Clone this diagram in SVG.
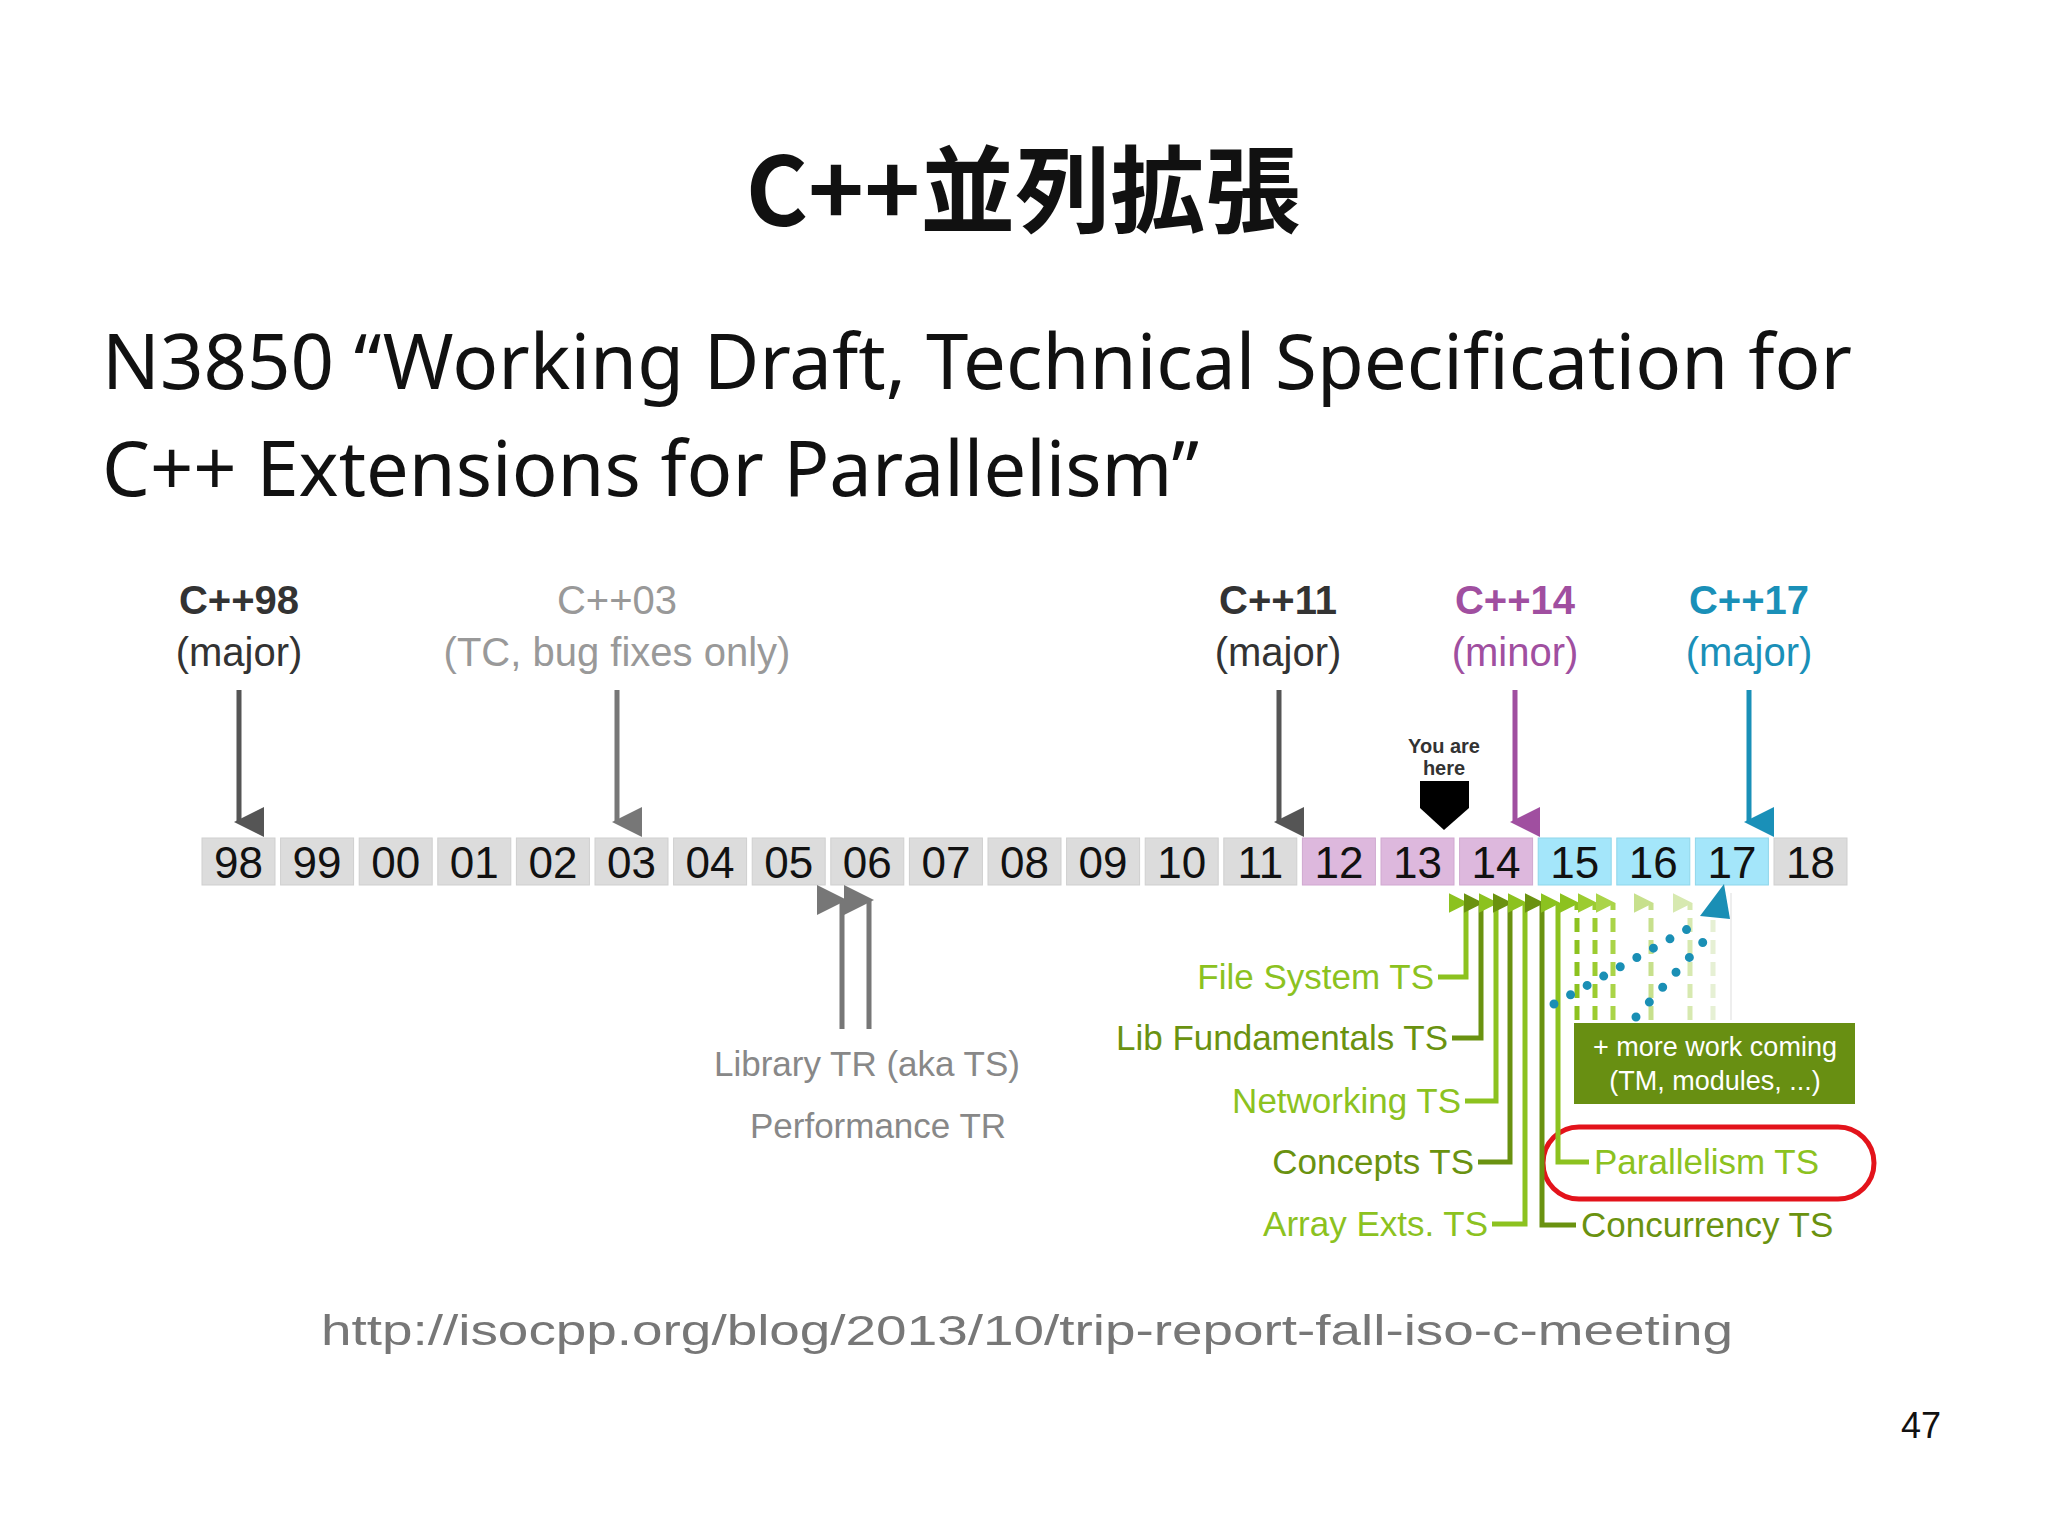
<svg xmlns="http://www.w3.org/2000/svg" width="2048" height="1535" viewBox="0 0 2048 1535">
<style>
.t{font-family:"Liberation Sans",Arial,sans-serif}
.yr{font-family:"Liberation Sans",Arial,sans-serif;font-size:44px;text-anchor:middle;fill:#111}
.hd{font-family:"Liberation Sans",Arial,sans-serif;font-size:40px;text-anchor:middle}
.ts{font-family:"Liberation Sans",Arial,sans-serif;font-size:35px}
.lg{fill:#8cc21f}.dg{fill:#6a9210}
</style>
<defs>
<marker id="ag" markerWidth="6" markerHeight="6" refX="3" refY="5" orient="auto" markerUnits="strokeWidth" viewBox="0 0 6 6"><path d="M0,0 L6,0 L3,6z" fill="context-stroke"/></marker>
<marker id="au" markerWidth="4" markerHeight="4" refX="2" refY="3.5" orient="auto" markerUnits="strokeWidth" viewBox="0 0 4 4"><path d="M0,0 L4,0 L2,4z" fill="context-stroke"/></marker>
</defs>
<rect width="2048" height="1535" fill="#fff"/>
<text x="1023" y="226" text-anchor="middle" font-family="'Noto Sans CJK JP',sans-serif" font-weight="bold" font-size="95" fill="#111">C++並列拡張</text>
<text x="102" y="389" font-family="'Noto Sans','Noto Sans CJK JP',sans-serif" font-size="76" fill="#111" textLength="1750" lengthAdjust="spacingAndGlyphs">N3850 “Working Draft, Technical Specification for</text>
<text x="102" y="496" font-family="'Noto Sans','Noto Sans CJK JP',sans-serif" font-size="76" fill="#111" textLength="1097" lengthAdjust="spacingAndGlyphs">C++ Extensions for Parallelism”</text>

<g id="headers">
<text class="hd" x="239" y="614" font-weight="bold" fill="#333">C++98</text>
<text class="hd" x="239" y="666" fill="#333">(major)</text>
<text class="hd" x="617" y="614" fill="#999">C++03</text>
<text class="hd" x="617" y="666" fill="#999">(TC, bug fixes only)</text>
<text class="hd" x="1278" y="614" font-weight="bold" fill="#333">C++11</text>
<text class="hd" x="1278" y="666" fill="#333">(major)</text>
<text class="hd" x="1515" y="614" font-weight="bold" fill="#a04fa0">C++14</text>
<text class="hd" x="1515" y="666" fill="#a04fa0">(minor)</text>
<text class="hd" x="1749" y="614" font-weight="bold" fill="#1a90b8">C++17</text>
<text class="hd" x="1749" y="666" fill="#1a90b8">(major)</text>
<text class="t" x="1444" y="753" font-size="20" font-weight="bold" text-anchor="middle" fill="#333">You are</text>
<text class="t" x="1444" y="775" font-size="20" font-weight="bold" text-anchor="middle" fill="#333">here</text>
<path id="here" d="M1420,781 H1469 V808 L1444,830 L1420,808 Z" fill="#000"/>
</g>

<g id="timeline">
<rect x="202" y="838" width="73" height="47" fill="#dcdcdc" stroke="#cfcfcf"/><text class="yr" x="238.5" y="878">98</text>
<rect x="280.6" y="838" width="73" height="47" fill="#dcdcdc" stroke="#cfcfcf"/><text class="yr" x="317.1" y="878">99</text>
<rect x="359.2" y="838" width="73" height="47" fill="#dcdcdc" stroke="#cfcfcf"/><text class="yr" x="395.7" y="878">00</text>
<rect x="437.8" y="838" width="73" height="47" fill="#dcdcdc" stroke="#cfcfcf"/><text class="yr" x="474.3" y="878">01</text>
<rect x="516.4" y="838" width="73" height="47" fill="#dcdcdc" stroke="#cfcfcf"/><text class="yr" x="552.9" y="878">02</text>
<rect x="595" y="838" width="73" height="47" fill="#dcdcdc" stroke="#cfcfcf"/><text class="yr" x="631.5" y="878">03</text>
<rect x="673.6" y="838" width="73" height="47" fill="#dcdcdc" stroke="#cfcfcf"/><text class="yr" x="710.1" y="878">04</text>
<rect x="752.2" y="838" width="73" height="47" fill="#dcdcdc" stroke="#cfcfcf"/><text class="yr" x="788.7" y="878">05</text>
<rect x="830.8" y="838" width="73" height="47" fill="#dcdcdc" stroke="#cfcfcf"/><text class="yr" x="867.3" y="878">06</text>
<rect x="909.4" y="838" width="73" height="47" fill="#dcdcdc" stroke="#cfcfcf"/><text class="yr" x="945.9" y="878">07</text>
<rect x="988" y="838" width="73" height="47" fill="#dcdcdc" stroke="#cfcfcf"/><text class="yr" x="1024.5" y="878">08</text>
<rect x="1066.6" y="838" width="73" height="47" fill="#dcdcdc" stroke="#cfcfcf"/><text class="yr" x="1103.1" y="878">09</text>
<rect x="1145.2" y="838" width="73" height="47" fill="#dcdcdc" stroke="#cfcfcf"/><text class="yr" x="1181.7" y="878">10</text>
<rect x="1223.8" y="838" width="73" height="47" fill="#dcdcdc" stroke="#cfcfcf"/><text class="yr" x="1260.3" y="878">11</text>
<rect x="1302.4" y="838" width="73" height="47" fill="#ddb8dd" stroke="#d0a8d0"/><text class="yr" x="1338.9" y="878">12</text>
<rect x="1381" y="838" width="73" height="47" fill="#ddb8dd" stroke="#d0a8d0"/><text class="yr" x="1417.5" y="878">13</text>
<rect x="1459.6" y="838" width="73" height="47" fill="#ddb8dd" stroke="#d0a8d0"/><text class="yr" x="1496.1" y="878">14</text>
<rect x="1538.2" y="838" width="73" height="47" fill="#a4e6fa" stroke="#8fd6ea"/><text class="yr" x="1574.7" y="878">15</text>
<rect x="1616.8" y="838" width="73" height="47" fill="#a4e6fa" stroke="#8fd6ea"/><text class="yr" x="1653.3" y="878">16</text>
<rect x="1695.4" y="838" width="73" height="47" fill="#a4e6fa" stroke="#8fd6ea"/><text class="yr" x="1731.9" y="878">17</text>
<rect x="1774" y="838" width="73" height="47" fill="#dcdcdc" stroke="#cfcfcf"/><text class="yr" x="1810.5" y="878">18</text>
</g>

<g id="tr-labels">
<text class="ts" x="867" y="1076" text-anchor="middle" fill="#888">Library TR (aka TS)</text>
<text class="ts" x="878" y="1138" text-anchor="middle" fill="#888">Performance TR</text>
<text class="ts lg" x="1434" y="989" text-anchor="end">File System TS</text>
<text class="ts dg" x="1448" y="1050" text-anchor="end">Lib Fundamentals TS</text>
<text class="ts lg" x="1461" y="1113" text-anchor="end">Networking TS</text>
<text class="ts dg" x="1474" y="1174" text-anchor="end">Concepts TS</text>
<text class="ts lg" x="1488" y="1236" text-anchor="end">Array Exts. TS</text>
<text class="ts dg" x="1581" y="1237">Concurrency TS</text>
<text class="ts lg" x="1594" y="1174">Parallelism TS</text>
</g>

<g id="more">
<rect x="1574" y="1023" width="281" height="81" fill="#688f12"/>
<text class="t" x="1715" y="1056" font-size="27" text-anchor="middle" fill="#fff">+ more work coming</text>
<text class="t" x="1715" y="1090" font-size="27" text-anchor="middle" fill="#fff">(TM, modules, ...)</text>
</g>

<g id="highlight">
<rect x="1543" y="1127" width="331" height="72" rx="36" fill="none" stroke="#e3131b" stroke-width="5"/>
</g>

<g id="connectors" fill="none">
<line x1="239" y1="690" x2="239" y2="822" stroke="#555" stroke-width="5" marker-end="url(#ag)"/>
<line x1="617" y1="690" x2="617" y2="822" stroke="#777" stroke-width="5" marker-end="url(#ag)"/>
<line x1="1279" y1="690" x2="1279" y2="822" stroke="#555" stroke-width="5" marker-end="url(#ag)"/>
<line x1="1515" y1="690" x2="1515" y2="822" stroke="#a04fa0" stroke-width="5" marker-end="url(#ag)"/>
<line x1="1749" y1="690" x2="1749" y2="822" stroke="#1a90b8" stroke-width="5" marker-end="url(#ag)"/>
<line x1="842" y1="1029" x2="842" y2="900" stroke="#777" stroke-width="5" marker-end="url(#ag)"/>
<line x1="869" y1="1029" x2="869" y2="900" stroke="#777" stroke-width="5" marker-end="url(#ag)"/>
<path d="M1438,977 H1466 V903" stroke="#8cc21f" stroke-width="5" marker-end="url(#au)"/>
<path d="M1452,1038 H1481 V903" stroke="#6a9210" stroke-width="5" marker-end="url(#au)"/>
<path d="M1465,1101 H1496 V903" stroke="#8cc21f" stroke-width="5" marker-end="url(#au)"/>
<path d="M1478,1162 H1510 V903" stroke="#6a9210" stroke-width="5" marker-end="url(#au)"/>
<path d="M1492,1224 H1525 V903" stroke="#8cc21f" stroke-width="5" marker-end="url(#au)"/>
<path d="M1576,1225 H1542 V903" stroke="#6a9210" stroke-width="5" marker-end="url(#au)"/>
<path d="M1589,1162 H1558 V903" stroke="#8cc21f" stroke-width="5" marker-end="url(#au)"/>
<line x1="1577" y1="1020" x2="1577" y2="903" stroke="#8cc21f" stroke-width="5" stroke-dasharray="14 8" marker-end="url(#au)"/>
<line x1="1595" y1="1020" x2="1595" y2="903" stroke="#9ccc30" stroke-width="5" stroke-dasharray="14 8" marker-end="url(#au)"/>
<line x1="1613" y1="1020" x2="1613" y2="903" stroke="#aad448" stroke-width="5" stroke-dasharray="14 8" marker-end="url(#au)"/>
<line x1="1651" y1="1020" x2="1651" y2="903" stroke="#c7e08c" stroke-width="5" stroke-dasharray="14 8" marker-end="url(#au)"/>
<line x1="1690" y1="1020" x2="1690" y2="903" stroke="#d7e9b0" stroke-width="5" stroke-dasharray="14 8" marker-end="url(#au)"/>
<line x1="1713" y1="1020" x2="1713" y2="920" stroke="#e6f0d4" stroke-width="5" stroke-dasharray="14 8"/>
<line x1="1731" y1="893" x2="1731" y2="1020" stroke="#e8e8e8" stroke-width="1.5"/>
<line x1="1554" y1="1004" x2="1700" y2="922" stroke="#1a8fb5" stroke-width="9" stroke-linecap="round" stroke-dasharray="0 19"/>
<line x1="1636" y1="1017" x2="1713" y2="931" stroke="#1a8fb5" stroke-width="9" stroke-linecap="round" stroke-dasharray="0 20"/>
<path d="M1724,884 L1700,916 L1730,919 Z" fill="#1a8fb5"/>
</g>

<text class="t" x="321" y="1345" font-size="42" fill="#777" textLength="1412" lengthAdjust="spacingAndGlyphs">http://isocpp.org/blog/2013/10/trip-report-fall-iso-c-meeting</text>
<text class="t" x="1921" y="1438" font-size="36" text-anchor="middle" fill="#111">47</text>
</svg>
